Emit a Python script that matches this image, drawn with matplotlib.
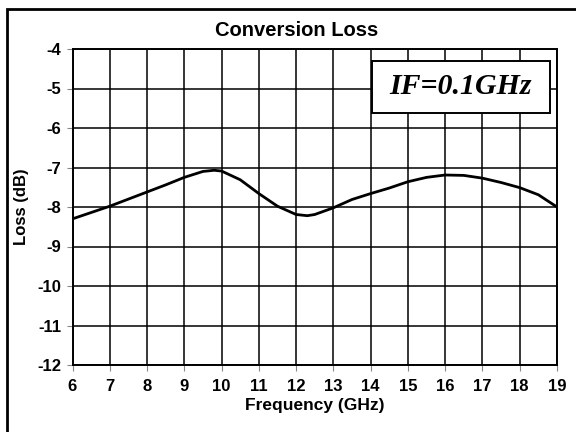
import matplotlib
matplotlib.use("Agg")
import matplotlib.pyplot as plt
from matplotlib.patches import Rectangle

# readings from the reference curve
freq = [6, 6.5, 7, 7.5, 8, 8.5, 9, 9.5, 9.8, 10, 10.5, 11, 11.5, 12, 12.3, 12.5,
        13, 13.5, 14, 14.5, 15, 15.5, 16, 16.5, 17, 17.5, 18, 18.5, 19]
loss = [-8.30, -8.14, -7.98, -7.80, -7.62, -7.44, -7.25, -7.10, -7.07, -7.09, -7.31,
        -7.66, -7.98, -8.19, -8.22, -8.19, -8.02, -7.81, -7.66, -7.52, -7.36, -7.25,
        -7.19, -7.20, -7.27, -7.38, -7.51, -7.69, -8.00]
xticks = list(range(6, 20))
yticks = list(range(-12, -3))

plt.rcParams['font.family'] = ['Liberation Sans', 'DejaVu Sans']

fig = plt.figure(figsize=(5.76, 4.32), dpi=100)
ax = fig.add_axes([72.5 / 576, 1 - 365 / 432, (557 - 72.5) / 576, (365 - 49) / 432])

ax.plot(freq, loss, color='black', lw=2.0, zorder=3, solid_capstyle='round')

ax.set_xlim(6, 19)
ax.set_ylim(-12, -4)
ax.set_xticks(xticks)
ax.set_yticks(yticks)
ax.set_xticklabels([str(t) for t in xticks], fontsize=12, fontweight='bold')
ax.set_yticklabels([str(t) for t in yticks], fontsize=12, fontweight='bold')
ax.tick_params(direction='out', length=4, width=0.8, color='#888888')
ax.tick_params(axis='x', pad=6)
ax.tick_params(axis='y', pad=4)
ax.grid(True, color='black', lw=1.1)
ax.set_axisbelow(True)
for s in ax.spines.values():
    s.set_linewidth(1.4)

fig.text(297 / 576, 1 - 30 / 432, 'Conversion Loss', fontsize=14.5,
         fontweight='bold', ha='center', va='center')
ax.set_xlabel('Frequency (GHz)', fontsize=12.5, fontweight='bold', labelpad=3)
ax.set_ylabel('Loss (dB)', fontsize=12, fontweight='bold', labelpad=6)

# annotation box
ax.add_patch(Rectangle((14.03, -5.62), 4.77, 1.32, facecolor='white',
                       edgecolor='black', lw=1.4, zorder=4))
ax.text(16.4, -4.96, 'IF=0.1GHz', fontsize=21.5, fontweight='bold', style='italic',
        family='Liberation Serif', ha='center', va='center', zorder=5)

# outer frame
fig.patches.append(Rectangle((7 / 576, -0.1), 1.2, 1 - 9 / 432 + 0.1,
                             transform=fig.transFigure, fill=False,
                             edgecolor='black', lw=2))

fig.savefig('out.png', dpi=100)
